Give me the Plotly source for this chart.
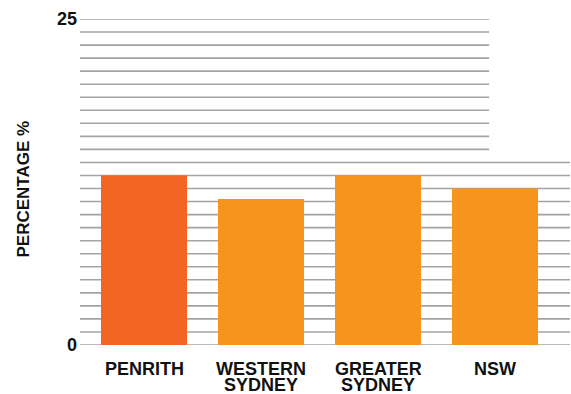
import plotly.graph_objects as go

categories = ["PENRITH", "WESTERN<br>SYDNEY", "GREATER<br>SYDNEY", "NSW"]
values = [13.0, 11.2, 13.0, 12.0]
bar_colors = ["#F26522", "#F7941D", "#F7941D", "#F7941D"]
y_ticks = [0, 25]
y_tick_labels = ["0", "25"]
y_title = "PERCENTAGE %"

FONT = "Liberation Sans, Arial, sans-serif"
TXT = "#111111"

fig = go.Figure()
fig.add_trace(go.Bar(
    x=categories, y=values,
    marker=dict(color=bar_colors, line=dict(width=0)),
    hoverinfo="skip",
))

# horizontal rule lines: long for 0..14, short for 15..25
shapes = []
for v in range(0, 26):
    x1 = 1.0 if v <= 14 else 0.835
    shapes.append(dict(type="line", xref="paper", yref="y", x0=0, x1=x1, y0=v, y1=v,
                       line=dict(color="#a3a3a3", width=1.6), layer="below"))

annotations = [dict(
    text=y_title, xref="paper", yref="paper", x=-0.1163, y=0.477,
    xanchor="center", yanchor="middle", textangle=-90, showarrow=False,
    font=dict(family=FONT, size=17, color=TXT, weight="bold"),
)]
# category labels (tight line spacing, as in the reference)
for cat in categories:
    for i, line in enumerate(cat.split("<br>")):
        annotations.append(dict(
            text=line, x=cat, xref="x", y=0, yref="y",
            xanchor="center", yanchor="middle", yshift=-23.5 - 16 * i,
            height=16, valign="middle",
            showarrow=False, font=dict(family=FONT, size=18, color=TXT, weight="bold"),
        ))

fig.update_layout(
    width=571, height=394,
    margin=dict(l=80, r=1, t=19, b=49),
    paper_bgcolor="white", plot_bgcolor="white",
    bargap=0.265,
    showlegend=False,
    shapes=shapes,
    annotations=annotations,
    font=dict(family=FONT, color=TXT),
)
fig.update_xaxes(
    range=[-0.547, 3.641], showgrid=False, zeroline=False, showline=False,
    ticks="", showticklabels=False,
)
fig.update_yaxes(
    range=[0, 25], showgrid=False, zeroline=False, showline=False,
    tickvals=y_ticks, ticktext=y_tick_labels, ticks="",
    tickfont=dict(family=FONT, size=18, color=TXT, weight="bold"),
    ticklabelstandoff=2,
)

fig.write_html("out.html")
